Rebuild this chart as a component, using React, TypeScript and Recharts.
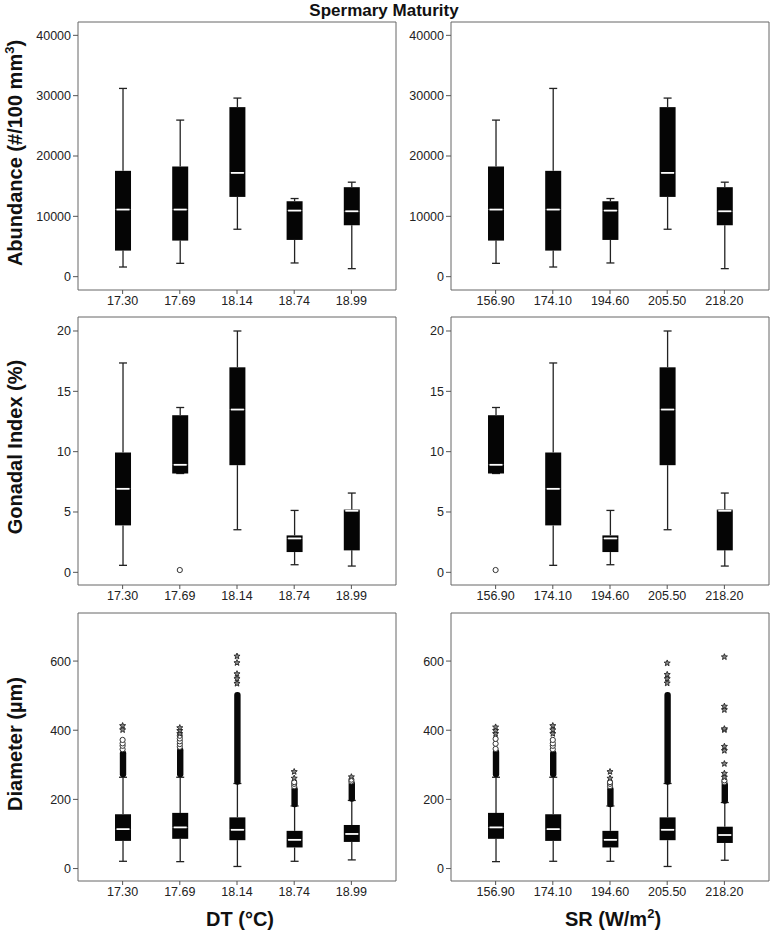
import React from 'react';
import { ComposedChart, Bar, Scatter, XAxis, YAxis, ReferenceArea } from 'recharts';

const FONT = '"Liberation Sans", Arial, sans-serif';

const dtLabels = ['17.30', '17.69', '18.14', '18.74', '18.99'];
const srLabels = ['156.90', '174.10', '194.60', '205.50', '218.20'];

// each row: [min, q1, median, q3, max]
const abundanceDT = [
  [1600, 4320, 11120, 17540, 31200],
  [2210, 5980, 11120, 18260, 25950],
  [7860, 13220, 17200, 28100, 29600],
  [2270, 6090, 10950, 12500, 12950],
  [1330, 8520, 10840, 14830, 15660],
];
const abundanceSR = [
  [2210, 5980, 11120, 18260, 25950],
  [1600, 4320, 11120, 17540, 31200],
  [2270, 6090, 10950, 12500, 12950],
  [7860, 13220, 17200, 28100, 29600],
  [1330, 8520, 10840, 14830, 15660],
];

const gonadalDT = [
  [0.58, 3.89, 6.92, 9.93, 17.35],
  [8.19, 8.19, 8.91, 13.02, 13.66],
  [3.53, 8.88, 13.49, 16.99, 20.0],
  [0.63, 1.68, 2.81, 3.06, 5.13],
  [0.52, 1.82, 5.1, 5.2, 6.57],
];
const gonadalSR = [
  [8.19, 8.19, 8.91, 13.02, 13.66],
  [0.58, 3.89, 6.92, 9.93, 17.35],
  [0.63, 1.68, 2.81, 3.06, 5.13],
  [3.53, 8.88, 13.49, 16.99, 20.0],
  [0.52, 1.82, 5.1, 5.2, 6.57],
];
const gonadalDTCircles = [[], [0.19], [], [], []];
const gonadalSRCircles = [[0.19], [], [], [], []];

const diameterDT = [
  [21, 80, 114, 157, 264],
  [20, 86, 119, 161, 264],
  [6, 82, 112, 148, 246],
  [21, 61, 83, 109, 181],
  [25, 77, 100, 126, 197],
];
const diameterSR = [
  [20, 86, 119, 161, 264],
  [21, 80, 114, 157, 264],
  [21, 61, 83, 109, 181],
  [6, 82, 112, 148, 246],
  [24, 74, 97, 121, 191],
];
// packed runs of outliers, drawn as one solid column [from, to]
const diameterDTDense = [[270, 336], [270, 345], [248, 505], [183, 232], [199, 248]];
const diameterSRDense = [[270, 340], [270, 336], [183, 232], [248, 505], [193, 245]];
const diameterDTCircles = [[345, 355, 362, 372], [352, 360, 368, 376, 384], [], [238, 245, 250], [252, 257]];
const diameterSRCircles = [[346, 361, 375], [345, 355, 362, 372], [238, 245, 250], [], [250, 255]];
const diameterDTStars = [[401, 413], [390, 399, 407], [535, 549, 563, 595, 614], [261, 280], [265]];
const diameterSRStars = [[390, 399, 409], [390, 401, 413], [261, 280], [536, 549, 561, 594], [264, 275, 303, 341, 353, 401, 404, 459, 469, 612]];

const empty = [[], [], [], [], []];
const X_DOMAIN = [0.22, 5.78];

const Nothing = () => <g />;

const WhiskerLow = (p: any) => {
  const cx = p.x + p.width / 2;
  const yb = p.y + p.height;
  return (
    <g>
      <line x1={cx} x2={cx} y1={p.y} y2={yb} stroke="#222" strokeWidth={1.3} />
      <line x1={cx - 4} x2={cx + 4} y1={yb} y2={yb} stroke="#222" strokeWidth={1.3} />
    </g>
  );
};

const WhiskerHigh = (p: any) => {
  const cx = p.x + p.width / 2;
  return (
    <g>
      <line x1={cx} x2={cx} y1={p.y} y2={p.y + p.height} stroke="#222" strokeWidth={1.3} />
      <line x1={cx - 4} x2={cx + 4} y1={p.y} y2={p.y} stroke="#222" strokeWidth={1.3} />
    </g>
  );
};

const BoxLow = (p: any) => <rect x={p.x} y={p.y} width={p.width} height={p.height} fill="#050505" />;

const BoxHigh = (p: any) => (
  <g>
    <rect x={p.x} y={p.y} width={p.width} height={p.height} fill="#050505" />
    <line x1={p.x + 1.5} x2={p.x + p.width - 1.5} y1={p.y + p.height} y2={p.y + p.height} stroke="#fff" strokeWidth={1.8} />
  </g>
);

const Dense = (p: any) => {
  if (!p.height) return <g />;
  const cx = p.x + p.width / 2;
  return <rect x={cx - 3.2} y={p.y - 2} width={6.4} height={p.height + 4} rx={3} fill="#080808" />;
};

const Circle = (p: any) => <circle cx={p.cx} cy={p.cy} r={2.6} fill="#fff" stroke="#333" strokeWidth={1} />;

const Star = (p: any) => {
  const pts: string[] = [];
  for (let k = 0; k < 10; k++) {
    const r = k % 2 === 0 ? 3.2 : 1.4;
    const a = -Math.PI / 2 + (k * Math.PI) / 5;
    pts.push(`${p.cx + r * Math.cos(a)},${p.cy + r * Math.sin(a)}`);
  }
  return <polygon points={pts.join(' ')} fill="#888" stroke="#222" strokeWidth={0.9} />;
};

type PanelProps = {
  labels: string[];
  box: number[][];
  dense?: number[][];
  circles: number[][];
  stars: number[][];
  domain: number[];
  ticks: number[];
  left: number;
  top: number;
  width: number;
  marginLeft: number;
  marginRight: number;
};

const BoxPanel = ({ labels, box, dense, circles, stars, domain, ticks, left, top, width, marginLeft, marginRight }: PanelProps) => {
  const rows = labels.map((label, i) => {
    const [mn, q1, md, q3, mx] = box[i];
    const [lo, hi] = dense ? dense[i] : [mx, mx];
    return {
      x: i + 1,
      label,
      base: mn,
      wLow: q1 - mn,
      boxLow: md - q1,
      boxHigh: q3 - md,
      wHigh: mx - q3,
      gap: lo - mx,
      dense: hi - lo,
    };
  });
  const circlePts = circles.flatMap((vals, i) => vals.map((v) => ({ x: i + 1, v })));
  const starPts = stars.flatMap((vals, i) => vals.map((v) => ({ x: i + 1, v })));

  return (
    <div style={{ position: 'absolute', left, top }}>
      <ComposedChart
        width={width}
        height={310}
        data={rows}
        margin={{ top: 22, right: marginRight, bottom: 0, left: marginLeft }}
      >
        <XAxis
          type="number"
          dataKey="x"
          domain={X_DOMAIN}
          ticks={[1, 2, 3, 4, 5]}
          interval={0}
          allowDataOverflow
          tickFormatter={(v: number) => labels[v - 1]}
          height={20}
          tickSize={4}
          tickMargin={2}
          axisLine={false}
          tickLine={{ stroke: '#555' }}
          tick={{ fill: '#222', fontSize: 12.5, fontFamily: FONT }}
        />
        <YAxis
          type="number"
          domain={domain}
          ticks={ticks}
          allowDataOverflow
          width={60}
          tickSize={5}
          tickMargin={2}
          axisLine={false}
          tickLine={{ stroke: '#555' }}
          tick={{ fill: '#222', fontSize: 12.5, fontFamily: FONT }}
        />
        <ReferenceArea
          x1={X_DOMAIN[0]}
          x2={X_DOMAIN[1]}
          y1={domain[0]}
          y2={domain[1]}
          fill="none"
          stroke="#666"
          strokeWidth={1}
          ifOverflow="visible"
        />
        <Bar dataKey="base" stackId="s" barSize={16} shape={Nothing} isAnimationActive={false} />
        <Bar dataKey="wLow" stackId="s" barSize={16} shape={WhiskerLow} isAnimationActive={false} />
        <Bar dataKey="boxLow" stackId="s" barSize={16} shape={BoxLow} isAnimationActive={false} />
        <Bar dataKey="boxHigh" stackId="s" barSize={16} shape={BoxHigh} isAnimationActive={false} />
        <Bar dataKey="wHigh" stackId="s" barSize={16} shape={WhiskerHigh} isAnimationActive={false} />
        <Bar dataKey="gap" stackId="s" barSize={16} shape={Nothing} isAnimationActive={false} />
        <Bar dataKey="dense" stackId="s" barSize={16} shape={Dense} isAnimationActive={false} />
        <Scatter data={circlePts} dataKey="v" shape={Circle} isAnimationActive={false} />
        <Scatter data={starPts} dataKey="v" shape={Star} isAnimationActive={false} />
      </ComposedChart>
    </div>
  );
};

const LEFT = { left: 0, width: 400, marginLeft: 18, marginRight: 4 };
const RIGHT = { left: 380, width: 390, marginLeft: 11, marginRight: 1 };

const abundanceTicks = [0, 10000, 20000, 30000, 40000];
const gonadalTicks = [0, 5, 10, 15, 20];
const diameterTicks = [0, 200, 400, 600];

export default function App() {
  return (
    <div style={{ position: 'absolute', left: 0, top: 0, width: 770, height: 930, background: '#fff', overflow: 'hidden' }}>
      <BoxPanel {...LEFT} top={0} labels={dtLabels} box={abundanceDT} circles={empty} stars={empty}
        domain={[-2210, 42210]} ticks={abundanceTicks} />
      <BoxPanel {...RIGHT} top={0} labels={srLabels} box={abundanceSR} circles={empty} stars={empty}
        domain={[-2210, 42210]} ticks={abundanceTicks} />
      <BoxPanel {...LEFT} top={295} labels={dtLabels} box={gonadalDT} circles={gonadalDTCircles} stars={empty}
        domain={[-1.05, 21.16]} ticks={gonadalTicks} />
      <BoxPanel {...RIGHT} top={295} labels={srLabels} box={gonadalSR} circles={gonadalSRCircles} stars={empty}
        domain={[-1.05, 21.16]} ticks={gonadalTicks} />
      <BoxPanel {...LEFT} top={591} labels={dtLabels} box={diameterDT} dense={diameterDTDense}
        circles={diameterDTCircles} stars={diameterDTStars} domain={[-36, 739]} ticks={diameterTicks} />
      <BoxPanel {...RIGHT} top={591} labels={srLabels} box={diameterSR} dense={diameterSRDense}
        circles={diameterSRCircles} stars={diameterSRStars} domain={[-36, 739]} ticks={diameterTicks} />

      <svg width={770} height={930} style={{ position: 'absolute', left: 0, top: 0, pointerEvents: 'none' }}>
        <g fontFamily={FONT} fontWeight="bold" fill="#111">
          <text x={384} y={16} fontSize={17} textAnchor="middle">Spermary Maturity</text>
          <text x={22} y={153} fontSize={20} textAnchor="middle" transform="rotate(-90 22 153)">
            Abundance (#/100 mm<tspan fontSize={13} dy={-8}>3</tspan><tspan dy={8}>)</tspan>
          </text>
          <text x={22} y={447} fontSize={20} textAnchor="middle" transform="rotate(-90 22 447)">Gonadal Index (%)</text>
          <text x={22} y={744} fontSize={20} textAnchor="middle" transform="rotate(-90 22 744)">Diameter (µm)</text>
          <text x={240} y={926} fontSize={20} textAnchor="middle">DT (°C)</text>
          <text x={613} y={926} fontSize={20} textAnchor="middle">
            SR (W/m<tspan fontSize={13} dy={-8}>2</tspan><tspan dy={8}>)</tspan>
          </text>
        </g>
      </svg>
    </div>
  );
}
